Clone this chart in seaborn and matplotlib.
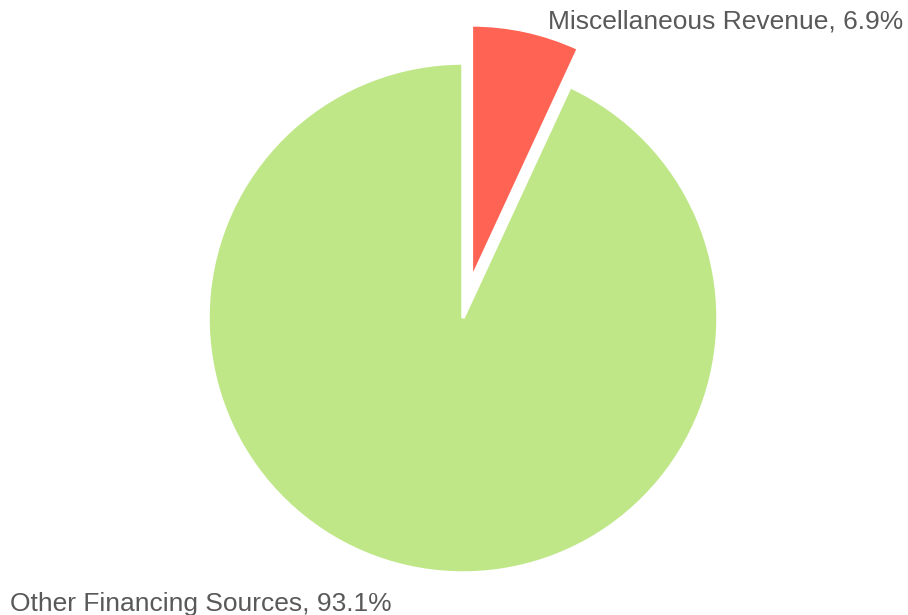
import matplotlib
matplotlib.use("Agg")
import matplotlib.pyplot as plt
import seaborn as sns

categories = ["Miscellaneous Revenue", "Other Financing Sources"]
shares = [6.9, 93.1]
colors = ["#ff6354", "#bfe788"]

sns.set_theme(style="white")
plt.rcParams["font.family"] = ["Liberation Sans", "DejaVu Sans"]

W, H = 908, 615
fig = plt.figure(figsize=(W / 100, H / 100), dpi=100)
ax = fig.add_axes([0, 0, 1, 1])

# pie drawn in pixel-sized data units; explode offset is in the same units
cx, cy, r = 463, H - 318, 255
ax.pie(
    shares,
    colors=colors,
    startangle=90,
    counterclock=False,
    explode=[39, 0],
    center=(cx, cy),
    radius=r,
    wedgeprops=dict(edgecolor="white", linewidth=2.5),
)
ax.set_xlim(0, W)
ax.set_ylim(0, H)
ax.set_aspect("equal")
ax.axis("off")

label_style = dict(fontsize=19, color="#595959", va="baseline")
ax.text(548, H - 28.5, f"{categories[0]}, {shares[0]}%", ha="left", **label_style)
ax.text(10, H - 611, f"{categories[1]}, {shares[1]}%", ha="left", **label_style)

fig.savefig("out.png", dpi=100)
